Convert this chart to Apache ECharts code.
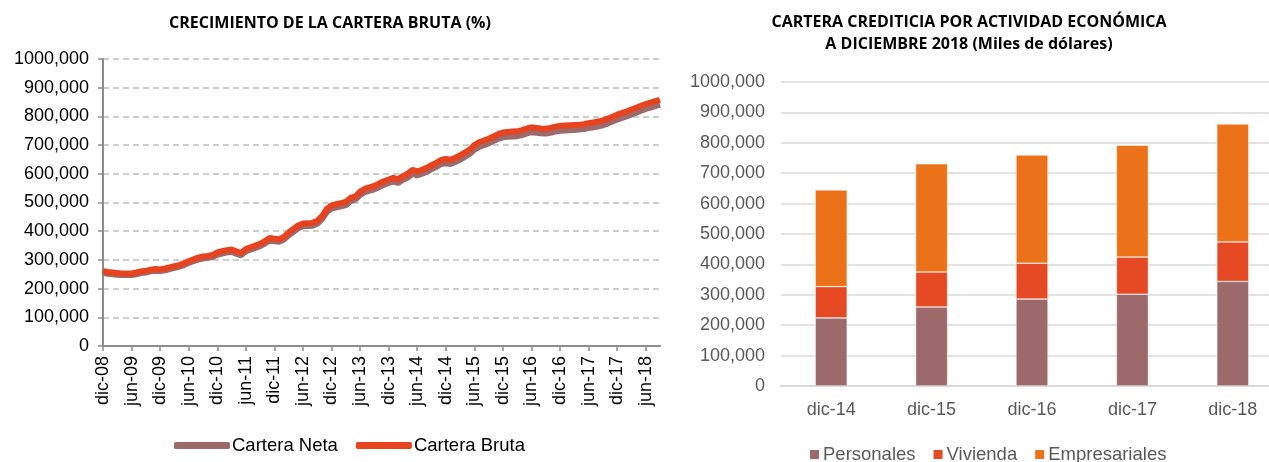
<!DOCTYPE html>
<html>
<head>
<meta charset="utf-8">
<script src="https://cdn.jsdelivr.net/npm/echarts@6/dist/echarts.min.js"></script>
<style>
  html, body { margin: 0; padding: 0; background: #fff; overflow: hidden; }
  /* the reference is cropped on the right, so the canvas runs a bit past the window */
  #chart { width: 1284px; height: 462px; }
</style>
</head>
<body>
<div id="chart"></div>
<script>
// monthly months dic-08 .. sep-18
var mesesNombres = ['ene', 'feb', 'mar', 'abr', 'may', 'jun', 'jul', 'ago', 'sep', 'oct', 'nov', 'dic'];
var meses = [];
for (var i = 0; i < 118; i++) {
  var m = (11 + i) % 12;
  var y = 8 + Math.floor((11 + i) / 12);
  meses.push(mesesNombres[m] + '-' + (y < 10 ? '0' + y : '' + y));
}

// miles de dólares (in thousands)
var carteraBruta = [
  261, 258, 256, 254, 253, 253, 253, 256, 260, 262, 266, 268,
  267, 270, 274, 278, 282, 288, 295, 302, 308, 312, 314, 317,
  326, 330, 334, 336, 330, 324, 338, 344, 350, 356, 365, 376,
  374, 372, 380, 396, 408, 420, 427, 428, 429, 436, 452, 478,
  490, 494, 498, 502, 516, 521, 538, 548, 553, 558, 566, 574,
  580, 586, 581, 592, 600, 614, 608, 614, 621, 630, 638, 648,
  652, 649, 656, 664, 674, 684, 700, 710, 716, 722, 730, 738,
  744, 746, 747, 748, 752, 758, 762, 760, 758, 757, 760, 764,
  767, 768, 769, 770, 771, 773, 776, 779, 782, 786, 792, 799,
  806, 812, 817, 824, 830, 837, 843, 848, 853, 858
];
var carteraNeta = [
  255, 252, 250, 248, 247, 247, 247, 250, 254, 256, 260, 262,
  261, 264, 268, 272, 276, 282, 289, 296, 301, 305, 307, 310,
  318, 322, 326, 328, 322, 316, 330, 336, 342, 348, 357, 367,
  365, 363, 371, 386, 398, 410, 417, 418, 419, 426, 442, 467,
  479, 483, 487, 491, 505, 510, 526, 536, 541, 546, 554, 562,
  568, 573, 568, 579, 587, 600, 594, 600, 607, 616, 624, 634,
  637, 634, 641, 649, 659, 669, 684, 694, 700, 706, 714, 722,
  727, 729, 730, 731, 735, 741, 745, 743, 741, 740, 743, 747,
  750, 751, 752, 753, 754, 756, 759, 762, 765, 769, 775, 782,
  789, 795, 800, 807, 813, 820, 826, 831, 836, 841
];

var anios = ['dic-14', 'dic-15', 'dic-16', 'dic-17', 'dic-18'];
var personales = [224, 260, 286, 302, 344];
var vivienda = [103, 115, 118, 122, 130];
var empresariales = [318, 356, 356, 368, 388];

function miles(arr) { return arr.map(function (v) { return v * 1000; }); }
function fmt(v) { return v === 0 ? '0' : (v / 1000) + ',000'; }

var chart = echarts.init(document.getElementById('chart'));
var font = 'Liberation Sans, Arial, sans-serif';
var titleFont = 'Open Sans, sans-serif';

chart.setOption({
  animation: false,
  title: [
    {
      text: 'CRECIMIENTO DE LA CARTERA BRUTA (%)',
      left: 325, top: 10, textAlign: 'center',
      textStyle: { fontFamily: titleFont, fontSize: 16, fontWeight: 'bold', color: '#000' }
    },
    {
      text: 'CARTERA CREDITICIA POR ACTIVIDAD ECONÓMICA\nA DICIEMBRE 2018 (Miles de dólares)',
      left: 964, top: 6, textAlign: 'center',
      textStyle: { fontFamily: titleFont, fontSize: 16, fontWeight: 'bold', color: '#000', lineHeight: 22 }
    }
  ],
  legend: [
    {
      data: ['Cartera Neta', 'Cartera Bruta'],
      left: 169, top: 431,
      icon: 'roundRect', itemWidth: 56, itemHeight: 7, itemGap: 18,
      textStyle: { fontFamily: font, fontSize: 18.5, color: '#000', padding: [0, 0, 0, -3] }
    },
    {
      data: ['Personales', 'Vivienda', 'Empresariales'],
      left: 803, top: 440,
      icon: 'rect', itemWidth: 11, itemHeight: 11, itemGap: 16,
      textStyle: { fontFamily: font, fontSize: 18.5, color: '#595959', padding: [0, 0, 0, -2] }
    }
  ],
  grid: [
    { left: 103, top: 59, width: 557, height: 287 },
    { left: 781, top: 82, width: 502, height: 304 }
  ],
  xAxis: [
    {
      gridIndex: 0, type: 'category', data: meses, boundaryGap: false,
      axisLine: { lineStyle: { color: '#8c8c8c', width: 2 } },
      axisTick: { interval: 5, length: 5, lineStyle: { color: '#8c8c8c', width: 1.5 } },
      axisLabel: {
        interval: 5, rotate: 90, margin: 10,
        fontFamily: font, fontSize: 18, color: '#000'
      }
    },
    {
      gridIndex: 1, type: 'category', data: anios,
      axisLine: { lineStyle: { color: '#d9d9d9', width: 2 } },
      axisTick: { length: 6, lineStyle: { color: '#d9d9d9', width: 2 } },
      axisLabel: { margin: 15, fontFamily: font, fontSize: 18, color: '#595959' }
    }
  ],
  yAxis: [
    {
      gridIndex: 0, type: 'value', min: 0, max: 1000000, interval: 100000,
      axisLine: { show: true, lineStyle: { color: '#8c8c8c', width: 2 } },
      axisTick: { show: true, length: 5, lineStyle: { color: '#8c8c8c', width: 1.5 } },
      splitLine: { lineStyle: { color: '#bfbfbf', width: 1.5, type: [6, 4] } },
      axisLabel: { margin: 14, formatter: fmt, fontFamily: font, fontSize: 18, color: '#000' }
    },
    {
      gridIndex: 1, type: 'value', min: 0, max: 1000000, interval: 100000,
      axisLine: { show: false },
      axisTick: { show: false },
      splitLine: { lineStyle: { color: '#d9d9d9', width: 1.5 } },
      axisLabel: { margin: 16, formatter: fmt, fontFamily: font, fontSize: 18, color: '#595959' }
    }
  ],
  series: [
    {
      name: 'Cartera Neta', type: 'line', xAxisIndex: 0, yAxisIndex: 0,
      data: miles(carteraNeta), showSymbol: false, symbol: 'none',
      itemStyle: { color: '#9c6a6a' },
      lineStyle: { color: '#9c6a6a', width: 6 }
    },
    {
      name: 'Cartera Bruta', type: 'line', xAxisIndex: 0, yAxisIndex: 0,
      data: miles(carteraBruta), showSymbol: false, symbol: 'none',
      itemStyle: { color: '#e8431f' },
      lineStyle: { color: '#e8431f', width: 6 }
    },
    {
      name: 'Personales', type: 'bar', stack: 'cartera', xAxisIndex: 1, yAxisIndex: 1,
      data: miles(personales), barWidth: 32,
      itemStyle: { color: '#9c6a6a', borderColor: '#ffffff', borderWidth: 0.5 }
    },
    {
      name: 'Vivienda', type: 'bar', stack: 'cartera', xAxisIndex: 1, yAxisIndex: 1,
      data: miles(vivienda), barWidth: 32,
      itemStyle: { color: '#e54a25', borderColor: '#ffffff', borderWidth: 0.5 }
    },
    {
      name: 'Empresariales', type: 'bar', stack: 'cartera', xAxisIndex: 1, yAxisIndex: 1,
      data: miles(empresariales), barWidth: 32,
      itemStyle: { color: '#ec7219', borderColor: '#ffffff', borderWidth: 0.5 }
    }
  ]
});
</script>
</body>
</html>
